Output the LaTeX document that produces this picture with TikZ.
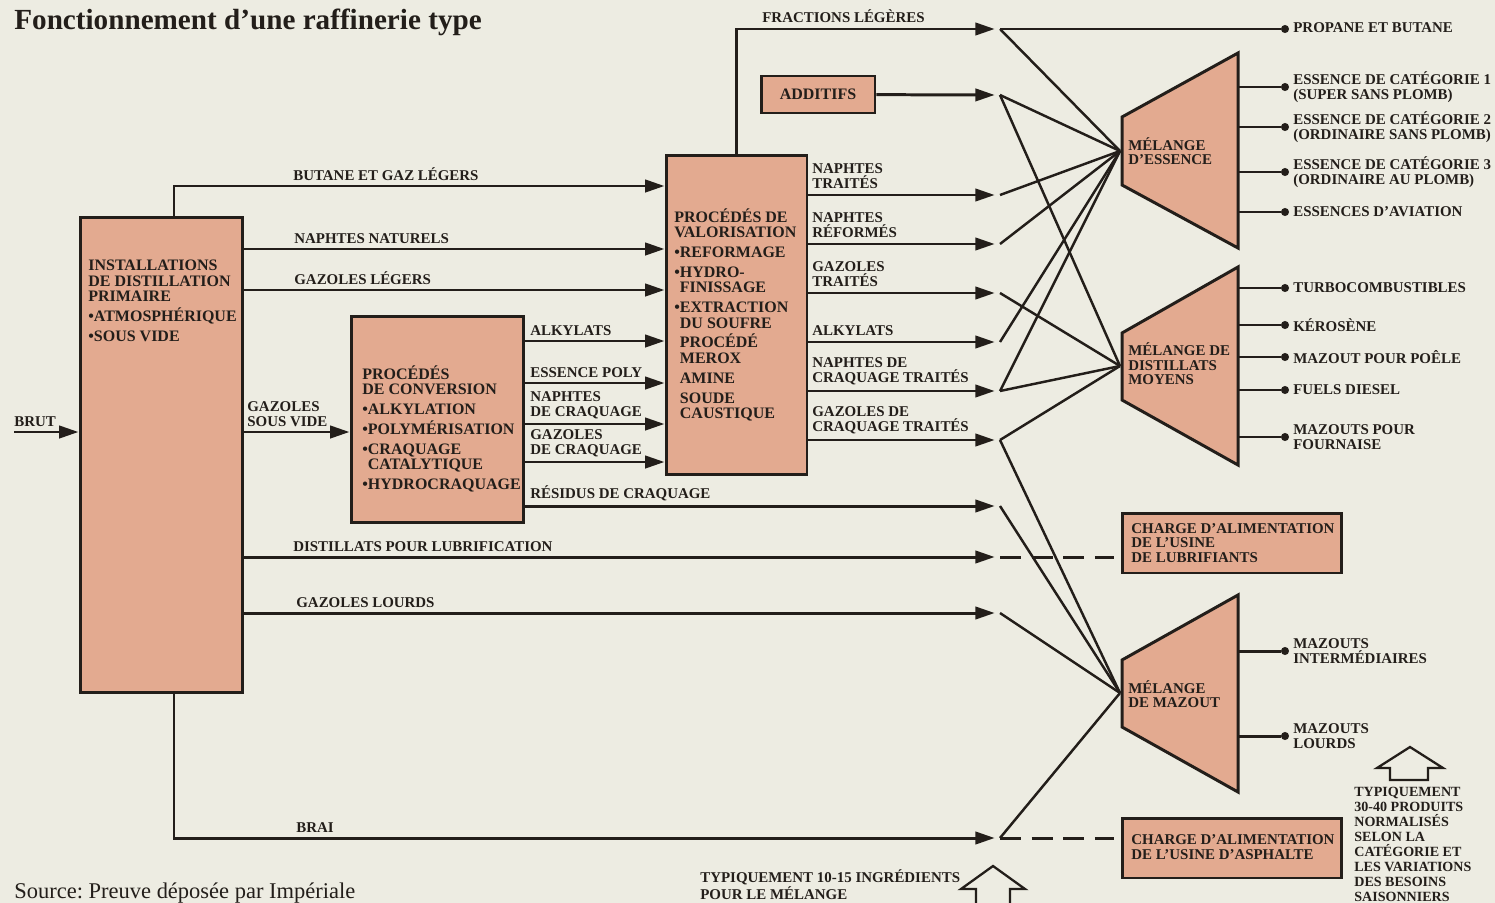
\documentclass[tikz,border=0pt]{standalone}
\usepackage{fontspec}
\setmainfont{Liberation Serif}
\frenchspacing
\usetikzlibrary{arrows.meta, positioning, calc}
\definecolor{rfpaper}{HTML}{EDECE2}
\definecolor{rfsalmon}{HTML}{E3AA90}
\definecolor{rfink}{HTML}{231E1A}

\begin{document}
\begin{tikzpicture}[
    x=0.02cm, y=-0.02cm,
    box/.style={rectangle, draw=rfink, line width=1.7pt, fill=rfsalmon, inner sep=0pt},
    mixer/.style={draw=rfink, line width=1.7pt, fill=rfsalmon, line join=miter},
    lbl/.style={font=\fontsize{8.5}{8.3}\selectfont\bfseries, text=rfink, inner sep=0pt, align=left},
    boxtxt/.style={lbl, font=\fontsize{9.1}{8.8}\selectfont\bfseries},
    flow/.style={draw=rfink, line width=1.7pt, -{Triangle[length=11pt, width=7pt]}},
    feed/.style={flow, shorten >=3pt},
    mix/.style={draw=rfink, line width=1.4pt},
    link/.style={draw=rfink, line width=1.7pt, dash pattern=on 12pt off 6pt, shorten >=4pt},
    outlet/.style={circle, fill=rfink, inner sep=0pt, minimum size=4.6pt},
    hollow/.style={draw=rfink, line width=1.3pt, line join=miter},
]

% paper
\fill[rfpaper] (0,0) rectangle (1495,903);
\useasboundingbox (0,0) rectangle (1495,903);

% title and source
\node[anchor=base west, inner sep=0pt, text=rfink, font=\fontsize{16.6}{18}\selectfont\bfseries] (title) at (14,29) {Fonctionnement d'une raffinerie type};
\node[anchor=base west, inner sep=0pt, text=rfink, font=\fontsize{12.8}{14}\selectfont] (source) at (14,898) {Source: Preuve déposée par Impériale};

% process units
\node[box, minimum width=3.26cm, minimum height=9.52cm] (dist) at (161.5,455) {};
\node[boxtxt, anchor=north west] (dist-txt) at (88,260) {INSTALLATIONS\\DE DISTILLATION\\PRIMAIRE\\[2.5pt]\textbullet ATMOSPHÉRIQUE\\[2.5pt]\textbullet SOUS VIDE};
\node[box, minimum width=3.46cm, minimum height=4.14cm] (conv) at (437.5,419.5) {};
\node[boxtxt, anchor=north west] (conv-txt) at (362,365) {PROCÉDÉS\\DE CONVERSION\\[2.5pt]\textbullet ALKYLATION\\[2.5pt]\textbullet POLYMÉRISATION\\[2.5pt]\textbullet CRAQUAGE\\\hphantom{\textbullet}CATALYTIQUE\\[2.5pt]\textbullet HYDROCRAQUAGE};
\node[box, minimum width=2.82cm, minimum height=6.4cm] (val) at (736.5,315) {};
\node[boxtxt, anchor=north west] (val-txt) at (674,208) {PROCÉDÉS DE\\VALORISATION\\[2.5pt]\textbullet REFORMAGE\\[2.5pt]\textbullet HYDRO-\\\hphantom{\textbullet}FINISSAGE\\[2.5pt]\textbullet EXTRACTION\\\hphantom{\textbullet}DU SOUFRE\\[2.5pt]\hphantom{\textbullet}PROCÉDÉ\\\hphantom{\textbullet}MEROX\\[2.5pt]\hphantom{\textbullet}AMINE\\[2.5pt]\hphantom{\textbullet}SOUDE\\\hphantom{\textbullet}CAUSTIQUE};
\node[box, boxtxt, minimum width=2.28cm, minimum height=0.74cm] (add) at (818,94.5) {ADDITIFS};
\node[box, minimum width=4.4cm, minimum height=1.2cm] (lub) at (1232,543) {};
\node[lbl, anchor=west] (lub-txt) at (1131,543) {CHARGE D'ALIMENTATION\\DE L'USINE\\DE LUBRIFIANTS};
\node[box, minimum width=4.4cm, minimum height=1.2cm] (asph) at (1232,848) {};
\node[lbl, anchor=west] (asph-txt) at (1131,847) {CHARGE D'ALIMENTATION\\DE L'USINE D'ASPHALTE};

% blending units
\draw[mixer] (1122,117) -- (1238,53) -- (1238,248) -- (1122,185) -- cycle;
\draw[mixer] (1122,333) -- (1238,267) -- (1238,465) -- (1122,400) -- cycle;
\draw[mixer] (1122,660) -- (1238,595) -- (1238,792) -- (1122,727) -- cycle;
\coordinate (ess) at (1120,151);
\coordinate (moy) at (1120,366);
\coordinate (maz) at (1120,693);
\coordinate (mix-r) at (1238,0);
\node[lbl, anchor=west] (ess-txt) at (1128,151) {MÉLANGE\\D'ESSENCE};
\node[lbl, anchor=west] (moy-txt) at (1128,364) {MÉLANGE DE\\DISTILLATS\\MOYENS};
\node[lbl, anchor=west] (maz-txt) at (1128,694) {MÉLANGE\\DE MAZOUT};

% junctions in front of the blenders
\foreach \n/\y in {frac/29, add/95, nt/195, nr/244, gt/293, alk/342, nct/391, gct/440, res/506, lub/557, gl/613, brai/838}
    \coordinate (j-\n) at (1000,\y);

% crude in
\coordinate (brut) at (14,432);
\draw[flow] (brut) -- (brut -| dist.west);
\node[lbl, anchor=south west] (brut-lbl) at (14,427) {BRUT};

% distillation outputs
\coordinate (butane) at (174,186);
\coordinate (brai) at (174,838);
\draw[flow] (butane |- dist.north) -- (butane) -- (butane -| val.west);
\node[lbl, anchor=south west] (butane-lbl) at (293,181) {BUTANE ET GAZ LÉGERS};
\foreach \y/\t in {249/NAPHTES NATURELS, 290/GAZOLES LÉGERS} {
    \draw[flow] (dist.east |- 0,\y) -- (val.west |- 0,\y);
    \node[lbl, anchor=south west] at (294,\y-5) {\t};
}
\draw[flow] (dist.east |- brut) -- (conv.west |- brut);
\node[lbl, anchor=south west] (gsv-lbl) at (247,427) {GAZOLES\\SOUS VIDE};
\draw[feed] (dist.east |- j-lub) -- (j-lub);
\node[lbl, anchor=south west] (lub-lbl) at (293,552) {DISTILLATS POUR LUBRIFICATION};
\draw[feed] (dist.east |- j-gl) -- (j-gl);
\node[lbl, anchor=south west] (gl-lbl) at (296,608) {GAZOLES LOURDS};
\draw[feed] (brai |- dist.south) -- (brai) -- (j-brai);
\node[lbl, anchor=south west] (brai-lbl) at (296,833) {BRAI};

% conversion outputs
\foreach \y/\t in {341/ALKYLATS, 383/ESSENCE POLY, 424/{NAPHTES\\DE CRAQUAGE}, 462/{GAZOLES\\DE CRAQUAGE}} {
    \draw[flow] (conv.east |- 0,\y) -- (val.west |- 0,\y);
    \node[lbl, anchor=south west] at (530,\y-5) {\t};
}
\draw[feed] (conv.east |- j-res) -- (j-res);
\node[lbl, anchor=south west] (res-lbl) at (530,501) {RÉSIDUS DE CRAQUAGE};

% upgrading outputs
\draw[feed] (val.north) |- (j-frac);
\node[lbl, anchor=south west] (frac-lbl) at (762,23) {FRACTIONS LÉGÈRES};
\draw[feed] (add) -- (j-add);
\foreach \n/\y/\t in {nt/195/{NAPHTES\\TRAITÉS}, nr/244/{NAPHTES\\RÉFORMÉS}, gt/293/{GAZOLES\\TRAITÉS}, alk/342/ALKYLATS, nct/391/{NAPHTES DE\\CRAQUAGE TRAITÉS}, gct/440/{GAZOLES DE\\CRAQUAGE TRAITÉS}} {
    \draw[feed] (val.east |- j-\n) -- (j-\n);
    \node[lbl, anchor=south west] at (812,\y-6) {\t};
}

% blending links
\foreach \a/\b in {frac/ess, add/ess, add/moy, nt/ess, nr/ess, gt/moy, alk/ess, nct/ess, nct/moy, gct/moy, gct/maz, res/maz, gl/maz, brai/maz}
    \draw[mix] (j-\a) -- (\b);
\draw[link] (j-lub) -- (j-lub -| lub.west);
\draw[link] (j-brai) -- (j-brai -| asph.west);

% products
\node[outlet] (o-0) at (1285,29) {};
\draw[mix, line width=1.7pt] (j-frac) -- (o-0);
\node[lbl, anchor=west] (p-0) at (1293,28) {PROPANE ET BUTANE};
\foreach \y/\t [count=\i] in {87/{ESSENCE DE CATÉGORIE 1\\(SUPER SANS PLOMB)}, 127/{ESSENCE DE CATÉGORIE 2\\(ORDINAIRE SANS PLOMB)}, 172/{ESSENCE DE CATÉGORIE 3\\(ORDINAIRE AU PLOMB)}, 212/ESSENCES D'AVIATION, 288/TURBOCOMBUSTIBLES, 325/KÉROSÈNE, 357/MAZOUT POUR POÊLE, 390/FUELS DIESEL, 437/{MAZOUTS POUR\\FOURNAISE}, 651/{MAZOUTS\\INTERMÉDIAIRES}, 736/{MAZOUTS\\LOURDS}} {
    \node[outlet] (o-\i) at (1285,\y) {};
    \draw[mix, line width=1.7pt] (mix-r |- o-\i) -- (o-\i);
    \node[lbl, anchor=west] (p-\i) at (1293,\y) {\t};
}

% notes
\draw[hollow] (976,903) -- (976,889) -- (961,889) -- (993,866) -- (1025,889) -- (1010,889) -- (1010,903);
\node[lbl, anchor=south west, font=\fontsize{8.5}{7.8}\selectfont\bfseries] (note-in) at (700,900) {TYPIQUEMENT 10-15 INGRÉDIENTS\\POUR LE MÉLANGE};
\draw[hollow] (1390,780) -- (1390,768) -- (1377,768) -- (1410,747) -- (1443,768) -- (1428,768) -- (1428,780) -- cycle;
\node[lbl, anchor=north west, font=\fontsize{8}{8.5}\selectfont\bfseries] (note-out) at (1354,787) {TYPIQUEMENT\\30-40 PRODUITS\\NORMALISÉS\\SELON LA\\CATÉGORIE ET\\LES VARIATIONS\\DES BESOINS\\SAISONNIERS};

\end{tikzpicture}
\end{document}
